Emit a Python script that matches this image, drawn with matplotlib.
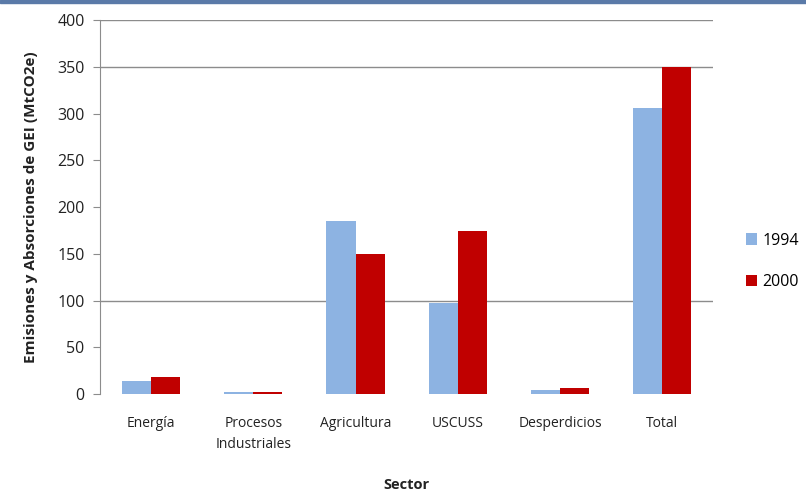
import numpy as np
import matplotlib
matplotlib.use("Agg")
import matplotlib.pyplot as plt
from matplotlib.patches import Rectangle

sectors = ["Energía", "Procesos\nIndustriales", "Agricultura", "USCUSS", "Desperdicios", "Total"]
vals_1994 = [14, 2, 185, 97, 4, 306]
vals_2000 = [18, 2, 150, 175, 6, 350]
y_ticks = [0, 50, 100, 150, 200, 250, 300, 350, 400]
grid_levels = [100, 350, 400]

plt.rcParams['font.family'] = ['Open Sans', 'DejaVu Sans']

fig = plt.figure(figsize=(8.06, 4.92), dpi=100)
ax = fig.add_axes([0.124, 0.199, 0.761, 0.760])

# top window strip
fig.patches.append(Rectangle((0, 0.993), 1, 0.007, transform=fig.transFigure,
                             color='#5a7aa8', zorder=0))

x = np.arange(len(sectors))
w = 0.285
ax.bar(x - w / 2, vals_1994, w, color='#8db3e2', label='1994', zorder=3)
ax.bar(x + w / 2, vals_2000, w, color='#c00000', label='2000', zorder=3)

for g in grid_levels:
    ax.axhline(g, color='#8c8c8c', lw=1, zorder=1)

ax.set_xlim(-0.5, len(sectors) - 0.5)
ax.set_ylim(0, 400)
ax.set_yticks(y_ticks)
ax.set_xticks(x)
ax.set_xticklabels(sectors, fontsize=10, color='#222222', linespacing=1.5)
ax.tick_params(axis='y', labelsize=11.5, colors='#222222', length=5, color='#8c8c8c', pad=6)
ax.tick_params(axis='x', length=0, pad=16)

for s in ['top', 'right', 'bottom']:
    ax.spines[s].set_visible(False)
ax.spines['left'].set_color('#8c8c8c')

ax.set_ylabel('Emisiones y Absorciones de GEI (MtCO2e)', fontsize=11, fontweight='bold',
              color='#222222', labelpad=14)
ax.set_xlabel('Sector', fontsize=10.5, fontweight='bold', color='#222222', va='center')
ax.xaxis.set_label_coords(0.5, -0.243)

ax.legend(loc='center left', bbox_to_anchor=(1.03, 0.355), frameon=False, fontsize=11.5,
          handlelength=0.7, handleheight=0.7, handletextpad=0.3, labelspacing=1.6)

fig.savefig('out.png', dpi=100)
